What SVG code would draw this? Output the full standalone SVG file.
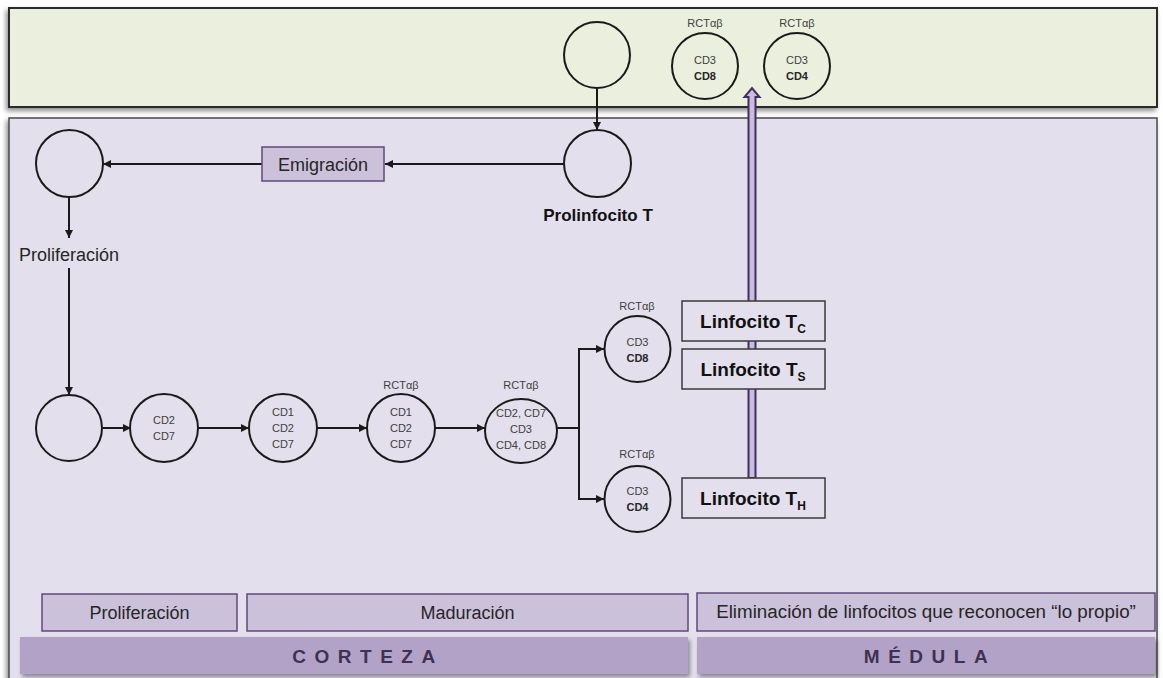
<svg xmlns="http://www.w3.org/2000/svg" width="1163" height="678" viewBox="0 0 1163 678">
<style>
.cell{fill:none;stroke:#1a1a1a;stroke-width:2}
.conn{fill:none;stroke:#1a1a1a;stroke-width:2}
.sm{font-family:"Liberation Sans",Arial,sans-serif;font-size:11px;fill:#404040;text-anchor:middle;dominant-baseline:central}
.smb{font-family:"Liberation Sans",Arial,sans-serif;font-size:11px;font-weight:bold;fill:#262626;text-anchor:middle;dominant-baseline:central}
.lbl{font-family:"Liberation Sans",Arial,sans-serif;font-size:18px;fill:#262626;text-anchor:middle}
.box{fill:#ccc1da;stroke:#5f497a;stroke-width:1.5}
.lt{font-family:"Liberation Sans",Arial,sans-serif;font-size:19px;font-weight:bold;fill:#111;text-anchor:middle}
.lbox{fill:#e4dfec;stroke:#3a3a3a;stroke-width:1.5}
.band{fill:#b3a2c7}
.bt{font-family:"Liberation Sans",Arial,sans-serif;font-size:19px;font-weight:bold;fill:#3f3151;text-anchor:middle;letter-spacing:8.5px}
</style>
<defs>
<marker id="ah" viewBox="0 0 10 10" refX="10" refY="5" markerWidth="4" markerHeight="4" orient="auto" markerUnits="strokeWidth">
<path d="M0,0 L10,5 L0,10 z" fill="#1a1a1a"/>
</marker>
<filter id="sh" x="-5%" y="-20%" width="110%" height="150%">
<feDropShadow dx="-2" dy="3" stdDeviation="2.5" flood-color="#000" flood-opacity="0.45"/>
</filter>
<filter id="sh2" x="-5%" y="-20%" width="110%" height="150%">
<feDropShadow dx="2" dy="3" stdDeviation="2" flood-color="#000" flood-opacity="0.4"/>
</filter>
</defs>
<rect width="1163" height="678" fill="#ffffff"/>

<g id="zona-superior">
<rect x="9" y="8" width="1148" height="99" fill="#ebf0de" stroke="#2a2a2a" stroke-width="2" filter="url(#sh)"/>
</g>
<g id="zona-timo">
<rect x="9" y="118" width="1148" height="570" fill="#e4dfec" stroke="#4a4a4a" stroke-width="1.5" filter="url(#sh)"/>
</g>

<g id="connectors">
<line class="conn" x1="597" y1="88" x2="597" y2="130" marker-end="url(#ah)"/>
<line class="conn" x1="564" y1="164" x2="385" y2="164" marker-end="url(#ah)"/>
<line class="conn" x1="262" y1="164" x2="103" y2="164" marker-end="url(#ah)"/>
<line class="conn" x1="69" y1="197" x2="69" y2="238" marker-end="url(#ah)"/>
<line class="conn" x1="69" y1="268" x2="69" y2="395" marker-end="url(#ah)"/>
<line class="conn" x1="102" y1="428" x2="131" y2="428" marker-end="url(#ah)"/>
<line class="conn" x1="198" y1="428" x2="249" y2="428" marker-end="url(#ah)"/>
<line class="conn" x1="317" y1="428" x2="367" y2="428" marker-end="url(#ah)"/>
<line class="conn" x1="434" y1="428" x2="485" y2="428" marker-end="url(#ah)"/>
<polyline class="conn" points="557,428 579,428"/>
<polyline class="conn" points="604,349 579,349 579,499 604,499"/>
<line class="conn" x1="579" y1="349" x2="604" y2="349" marker-end="url(#ah)"/>
<line class="conn" x1="579" y1="499" x2="604" y2="499" marker-end="url(#ah)"/>
<path id="double-arrow" d="M748.5,478 L748.5,97 L744.5,97 L752,88 L759.5,97 L755.5,97 L755.5,478 Z" fill="#c9bcdc" stroke="#3f2f5e" stroke-width="2" stroke-linejoin="miter"/>
</g>

<g id="top-cell">
<circle class="cell" cx="597" cy="55" r="33"/>
</g>
<g id="top-cd8">
<text class="sm" x="705" y="23">RCTαβ</text>
<circle class="cell" cx="705" cy="66" r="33"/>
<text class="sm" x="705" y="60">CD3</text>
<text class="smb" x="705" y="76">CD8</text>
</g>
<g id="top-cd4">
<text class="sm" x="797" y="23">RCTαβ</text>
<circle class="cell" cx="797" cy="66" r="33"/>
<text class="sm" x="797" y="60">CD3</text>
<text class="smb" x="797" y="76">CD4</text>
</g>

<g id="prolinfocito">
<circle class="cell" cx="597.5" cy="163.5" r="33.5"/>
<text x="598" y="221" font-family="'Liberation Sans',Arial,sans-serif" font-size="17" font-weight="bold" fill="#111" text-anchor="middle">Prolinfocito T</text>
</g>
<g id="emigracion">
<rect class="box" x="262" y="147" width="122" height="34"/>
<text class="lbl" x="323" y="171">Emigración</text>
</g>
<g id="cell-left-top">
<circle class="cell" cx="69.5" cy="163.5" r="33.5"/>
</g>
<g id="proliferacion-label">
<text x="19" y="261" font-family="'Liberation Sans',Arial,sans-serif" font-size="18" fill="#262626">Proliferación</text>
</g>

<g id="cell-1">
<circle class="cell" cx="69" cy="428" r="33"/>
</g>
<g id="cell-2">
<circle class="cell" cx="164" cy="428" r="34"/>
<text class="sm" x="164" y="420">CD2</text>
<text class="sm" x="164" y="436">CD7</text>
</g>
<g id="cell-3">
<circle class="cell" cx="283" cy="428" r="34"/>
<text class="sm" x="283" y="412">CD1</text>
<text class="sm" x="283" y="428">CD2</text>
<text class="sm" x="283" y="444">CD7</text>
</g>
<g id="cell-4">
<text class="sm" x="401" y="385">RCTαβ</text>
<circle class="cell" cx="401" cy="428" r="34"/>
<text class="sm" x="401" y="412">CD1</text>
<text class="sm" x="401" y="428">CD2</text>
<text class="sm" x="401" y="444">CD7</text>
</g>
<g id="cell-5">
<text class="sm" x="521" y="385">RCTαβ</text>
<ellipse class="cell" cx="521" cy="431" rx="36" ry="32"/>
<text class="sm" x="521" y="413">CD2, CD7</text>
<text class="sm" x="521" y="429">CD3</text>
<text class="sm" x="521" y="445">CD4, CD8</text>
</g>
<g id="cell-cd8">
<text class="sm" x="637" y="306">RCTαβ</text>
<circle class="cell" cx="637.5" cy="349" r="33"/>
<text class="sm" x="637.5" y="342">CD3</text>
<text class="smb" x="637.5" y="358">CD8</text>
</g>
<g id="cell-cd4">
<text class="sm" x="637" y="454">RCTαβ</text>
<circle class="cell" cx="637.5" cy="499" r="33"/>
<text class="sm" x="637.5" y="491">CD3</text>
<text class="smb" x="637.5" y="507">CD4</text>
</g>

<g id="linfocito-tc">
<rect class="lbox" x="682" y="301" width="143" height="40"/>
<text class="lt" x="753" y="328">Linfocito T<tspan dy="5" font-size="12">C</tspan></text>
</g>
<g id="linfocito-ts">
<rect class="lbox" x="682" y="349" width="143" height="40"/>
<text class="lt" x="753" y="376">Linfocito T<tspan dy="5" font-size="12">S</tspan></text>
</g>
<g id="linfocito-th">
<rect class="lbox" x="682" y="478" width="143" height="40"/>
<text class="lt" x="753" y="505">Linfocito T<tspan dy="5" font-size="12">H</tspan></text>
</g>

<g id="fase-proliferacion">
<rect class="box" x="42" y="594" width="195" height="37"/>
<text class="lbl" x="139.5" y="619">Proliferación</text>
</g>
<g id="fase-maduracion">
<rect class="box" x="247" y="594" width="441" height="37"/>
<text class="lbl" x="467.5" y="619">Maduración</text>
</g>
<g id="fase-eliminacion">
<rect class="box" x="697" y="593" width="458" height="38"/>
<text x="926" y="618" font-family="'Liberation Sans',Arial,sans-serif" font-size="18.8" fill="#262626" text-anchor="middle">Eliminación de linfocitos que reconocen “lo propio”</text>
</g>
<g id="corteza">
<rect class="band" x="20" y="637" width="668" height="37" filter="url(#sh2)"/>
<text class="bt" x="368" y="663">CORTEZA</text>
</g>
<g id="medula">
<rect class="band" x="697" y="637" width="458" height="37" filter="url(#sh2)"/>
<text class="bt" x="930" y="663">MÉDULA</text>
</g>
</svg>
